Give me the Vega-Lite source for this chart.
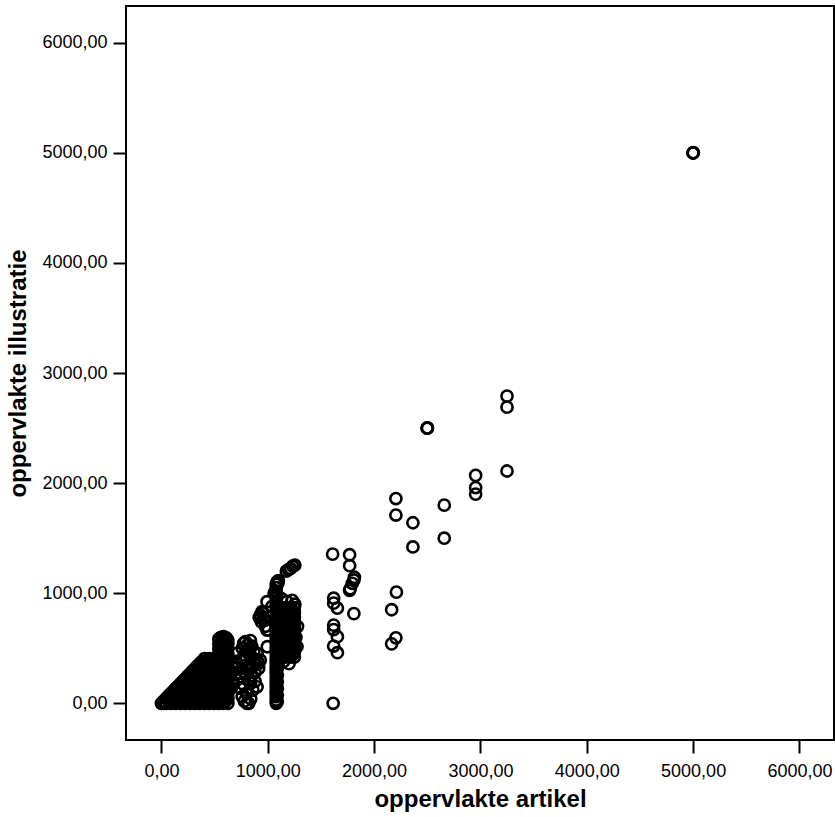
{
 "$schema": "https://vega.github.io/schema/vega-lite/v6.json",
 "width": 708, "height": 734,
 "autosize": "none",
 "padding": {"left": 126, "top": 6, "right": 1, "bottom": 77},
 "background": "white",
 "config": {"view": {"stroke": "black", "strokeWidth": 2}, "font": "Liberation Sans"},
 "data": {"values": [
  {"x":5000,"y":5000},{"x":5002,"y":5001},{"x":4999,"y":4998},
  {"x":2500,"y":2500},{"x":2502,"y":2501},{"x":2498,"y":2499},
  {"x":3250,"y":2790},{"x":3250,"y":2690},{"x":3250,"y":2110},
  {"x":2955,"y":2070},{"x":2955,"y":1960},{"x":2955,"y":1900},
  {"x":2660,"y":1800},{"x":2660,"y":1500},
  {"x":2365,"y":1640},{"x":2365,"y":1420},
  {"x":2205,"y":1860},{"x":2205,"y":1710},
  {"x":2210,"y":1010},{"x":2165,"y":850},{"x":2205,"y":595},{"x":2165,"y":540},
  {"x":1610,"y":1355},{"x":1770,"y":1350},{"x":1770,"y":1250},{"x":1815,"y":1145},{"x":1810,"y":1120},{"x":1795,"y":1090},{"x":1775,"y":1040},{"x":1770,"y":1025},{"x":1810,"y":815},
  {"x":1620,"y":955},{"x":1620,"y":910},{"x":1655,"y":865},{"x":1620,"y":710},{"x":1620,"y":670},{"x":1655,"y":605},{"x":1620,"y":520},{"x":1655,"y":460},{"x":1615,"y":0},
  {"x":1060,"y":1000},{"x":1087,"y":1104},{"x":1095,"y":1090},{"x":1100,"y":1115},{"x":1175,"y":1200},{"x":1195,"y":1215},{"x":1215,"y":1225},{"x":1235,"y":1245},{"x":1255,"y":1256},
  {"x":959,"y":775},{"x":946,"y":832},{"x":978,"y":700},{"x":993,"y":923},{"x":993,"y":665},{"x":977,"y":756},{"x":1040,"y":880},{"x":996,"y":514},{"x":1006,"y":667},
  {"x":1080,"y":0},{"x":1080,"y":30},{"x":1080,"y":60},{"x":1080,"y":90},{"x":1080,"y":120},{"x":1080,"y":150},{"x":1080,"y":180},{"x":1080,"y":210},{"x":1080,"y":240},{"x":1080,"y":270},{"x":1080,"y":300},{"x":1080,"y":330},{"x":1080,"y":360},{"x":1080,"y":390},{"x":1080,"y":420},{"x":1080,"y":450},{"x":1080,"y":480},{"x":1080,"y":510},{"x":1080,"y":540},{"x":1080,"y":570},{"x":1080,"y":600},{"x":1080,"y":630},{"x":1080,"y":660},{"x":1080,"y":690},{"x":1080,"y":720},{"x":1080,"y":750},{"x":1080,"y":780},{"x":1080,"y":810},{"x":1080,"y":840},{"x":1080,"y":870},{"x":1080,"y":900},{"x":1080,"y":930},{"x":1080,"y":960},{"x":1080,"y":990},{"x":1080,"y":1020},{"x":1080,"y":1050},{"x":1080,"y":1080},
  {"x":1090,"y":15},{"x":1090,"y":75},{"x":1090,"y":135},{"x":1090,"y":195},{"x":1090,"y":255},{"x":1090,"y":315},{"x":1090,"y":375},
  {"x":1120,"y":420},{"x":1120,"y":465},{"x":1120,"y":510},{"x":1120,"y":555},{"x":1120,"y":600},{"x":1120,"y":645},{"x":1120,"y":690},{"x":1120,"y":735},{"x":1120,"y":780},{"x":1120,"y":825},{"x":1120,"y":870},
  {"x":1165,"y":420},{"x":1165,"y":465},{"x":1165,"y":510},{"x":1165,"y":555},{"x":1165,"y":600},{"x":1165,"y":645},{"x":1165,"y":690},{"x":1165,"y":735},{"x":1165,"y":780},{"x":1165,"y":825},{"x":1165,"y":870},
  {"x":1210,"y":420},{"x":1210,"y":465},{"x":1210,"y":510},{"x":1210,"y":555},{"x":1210,"y":600},{"x":1210,"y":645},{"x":1210,"y":690},{"x":1210,"y":735},{"x":1210,"y":780},{"x":1210,"y":825},{"x":1210,"y":870},
  {"x":1250,"y":420},{"x":1250,"y":465},{"x":1250,"y":510},{"x":1250,"y":555},{"x":1250,"y":600},{"x":1250,"y":645},{"x":1250,"y":690},{"x":1250,"y":735},{"x":1250,"y":780},{"x":1250,"y":825},{"x":1250,"y":870},
  {"x":1100,"y":442},{"x":1100,"y":487},{"x":1100,"y":532},{"x":1100,"y":577},{"x":1100,"y":622},{"x":1100,"y":667},{"x":1100,"y":712},{"x":1100,"y":757},{"x":1100,"y":802},{"x":1100,"y":847},
  {"x":1143,"y":442},{"x":1143,"y":487},{"x":1143,"y":532},{"x":1143,"y":577},{"x":1143,"y":622},{"x":1143,"y":667},{"x":1143,"y":712},{"x":1143,"y":757},{"x":1143,"y":802},{"x":1143,"y":847},
  {"x":1188,"y":442},{"x":1188,"y":487},{"x":1188,"y":532},{"x":1188,"y":577},{"x":1188,"y":622},{"x":1188,"y":667},{"x":1188,"y":712},{"x":1188,"y":757},{"x":1188,"y":802},{"x":1188,"y":847},
  {"x":1232,"y":442},{"x":1232,"y":487},{"x":1232,"y":532},{"x":1232,"y":577},{"x":1232,"y":622},{"x":1232,"y":667},{"x":1232,"y":712},{"x":1232,"y":757},{"x":1232,"y":802},{"x":1232,"y":847},
  {"x":1275,"y":514},{"x":1265,"y":600},{"x":1280,"y":700},{"x":1150,"y":380},{"x":1200,"y":360},{"x":1230,"y":935},{"x":1180,"y":925},{"x":1130,"y":950},{"x":1255,"y":900},
  {"x":711,"y":454},{"x":711,"y":332},{"x":711,"y":212},{"x":658,"y":140},
  {"x":743,"y":393},{"x":743,"y":272},{"x":743,"y":136},{"x":743,"y":242},
  {"x":773,"y":545},{"x":773,"y":393},{"x":805,"y":484},{"x":805,"y":0},
  {"x":821,"y":212},{"x":821,"y":0},{"x":837,"y":570},{"x":837,"y":332},{"x":837,"y":182},
  {"x":868,"y":469},{"x":900,"y":393},{"x":900,"y":454},{"x":915,"y":318},{"x":915,"y":363},{"x":930,"y":393},
  {"x":930,"y":802},{"x":962,"y":757},{"x":810,"y":530},{"x":780,"y":440},{"x":850,"y":420},{"x":880,"y":280},{"x":760,"y":180},{"x":800,"y":90},{"x":860,"y":120},
  {"x":760,"y":500},{"x":790,"y":560},{"x":820,"y":450},{"x":850,"y":520},{"x":870,"y":400},{"x":890,"y":350},{"x":760,"y":320},{"x":790,"y":280},{"x":820,"y":300},{"x":850,"y":250},{"x":880,"y":200},{"x":900,"y":150},{"x":760,"y":60},{"x":780,"y":20},{"x":840,"y":40},{"x":700,"y":380},{"x":690,"y":260},{"x":680,"y":180},{"x":950,"y":820},{"x":920,"y":780},{"x":940,"y":740},
  {"x":540,"y":0},{"x":540,"y":45},{"x":540,"y":90},{"x":540,"y":135},{"x":540,"y":180},{"x":540,"y":225},{"x":540,"y":270},{"x":540,"y":315},{"x":540,"y":360},{"x":540,"y":405},{"x":540,"y":450},{"x":540,"y":495},{"x":540,"y":540},{"x":540,"y":585},
  {"x":585,"y":0},{"x":585,"y":45},{"x":585,"y":90},{"x":585,"y":135},{"x":585,"y":180},{"x":585,"y":225},{"x":585,"y":270},{"x":585,"y":315},{"x":585,"y":360},{"x":585,"y":405},{"x":585,"y":450},{"x":585,"y":495},{"x":585,"y":540},{"x":585,"y":585},
  {"x":625,"y":0},{"x":625,"y":45},{"x":625,"y":90},{"x":625,"y":135},{"x":625,"y":180},{"x":625,"y":225},{"x":625,"y":270},{"x":625,"y":315},{"x":625,"y":360},{"x":625,"y":405},{"x":625,"y":450},{"x":625,"y":495},{"x":625,"y":540},{"x":625,"y":575},
  {"x":562,"y":22},{"x":562,"y":67},{"x":562,"y":112},{"x":562,"y":157},{"x":562,"y":202},{"x":562,"y":247},{"x":562,"y":292},{"x":562,"y":337},{"x":562,"y":382},{"x":562,"y":427},{"x":562,"y":472},{"x":562,"y":517},{"x":562,"y":562},
  {"x":605,"y":22},{"x":605,"y":67},{"x":605,"y":112},{"x":605,"y":157},{"x":605,"y":202},{"x":605,"y":247},{"x":605,"y":292},{"x":605,"y":337},{"x":605,"y":382},{"x":605,"y":427},{"x":605,"y":472},{"x":605,"y":517},{"x":605,"y":562},
  {"x":585,"y":605},{"x":560,"y":600},{"x":610,"y":595},
  {"x":0,"y":0},
  {"x":45,"y":0},{"x":45,"y":45},
  {"x":90,"y":0},{"x":90,"y":45},{"x":90,"y":90},
  {"x":135,"y":0},{"x":135,"y":45},{"x":135,"y":90},{"x":135,"y":135},
  {"x":180,"y":0},{"x":180,"y":45},{"x":180,"y":90},{"x":180,"y":135},{"x":180,"y":180},
  {"x":225,"y":0},{"x":225,"y":45},{"x":225,"y":90},{"x":225,"y":135},{"x":225,"y":180},{"x":225,"y":225},
  {"x":270,"y":0},{"x":270,"y":45},{"x":270,"y":90},{"x":270,"y":135},{"x":270,"y":180},{"x":270,"y":225},{"x":270,"y":270},
  {"x":315,"y":0},{"x":315,"y":45},{"x":315,"y":90},{"x":315,"y":135},{"x":315,"y":180},{"x":315,"y":225},{"x":315,"y":270},{"x":315,"y":315},
  {"x":360,"y":0},{"x":360,"y":45},{"x":360,"y":90},{"x":360,"y":135},{"x":360,"y":180},{"x":360,"y":225},{"x":360,"y":270},{"x":360,"y":315},{"x":360,"y":360},
  {"x":405,"y":0},{"x":405,"y":45},{"x":405,"y":90},{"x":405,"y":135},{"x":405,"y":180},{"x":405,"y":225},{"x":405,"y":270},{"x":405,"y":315},{"x":405,"y":360},{"x":405,"y":405},
  {"x":450,"y":0},{"x":450,"y":45},{"x":450,"y":90},{"x":450,"y":135},{"x":450,"y":180},{"x":450,"y":225},{"x":450,"y":270},{"x":450,"y":315},{"x":450,"y":360},{"x":450,"y":405},
  {"x":495,"y":0},{"x":495,"y":45},{"x":495,"y":90},{"x":495,"y":135},{"x":495,"y":180},{"x":495,"y":225},{"x":495,"y":270},{"x":495,"y":315},{"x":495,"y":360},{"x":495,"y":405},
  {"x":22,"y":0},{"x":67,"y":22},
  {"x":112,"y":22},{"x":112,"y":67},
  {"x":157,"y":22},{"x":157,"y":67},{"x":157,"y":112},
  {"x":202,"y":22},{"x":202,"y":67},{"x":202,"y":112},{"x":202,"y":157},
  {"x":247,"y":22},{"x":247,"y":67},{"x":247,"y":112},{"x":247,"y":157},{"x":247,"y":202},
  {"x":292,"y":22},{"x":292,"y":67},{"x":292,"y":112},{"x":292,"y":157},{"x":292,"y":202},{"x":292,"y":247},
  {"x":337,"y":22},{"x":337,"y":67},{"x":337,"y":112},{"x":337,"y":157},{"x":337,"y":202},{"x":337,"y":247},{"x":337,"y":292},
  {"x":382,"y":22},{"x":382,"y":67},{"x":382,"y":112},{"x":382,"y":157},{"x":382,"y":202},{"x":382,"y":247},{"x":382,"y":292},{"x":382,"y":337},
  {"x":427,"y":22},{"x":427,"y":67},{"x":427,"y":112},{"x":427,"y":157},{"x":427,"y":202},{"x":427,"y":247},{"x":427,"y":292},{"x":427,"y":337},{"x":427,"y":382},
  {"x":472,"y":22},{"x":472,"y":67},{"x":472,"y":112},{"x":472,"y":157},{"x":472,"y":202},{"x":472,"y":247},{"x":472,"y":292},{"x":472,"y":337},{"x":472,"y":382},
  {"x":517,"y":22},{"x":517,"y":67},{"x":517,"y":112},{"x":517,"y":157},{"x":517,"y":202},{"x":517,"y":247},{"x":517,"y":292},{"x":517,"y":337},{"x":517,"y":382},
  {"x":67,"y":67},{"x":112,"y":112},{"x":157,"y":157},{"x":202,"y":202},{"x":247,"y":247},{"x":292,"y":292},{"x":337,"y":337},{"x":382,"y":382},
  {"x":20,"y":20},{"x":70,"y":30},{"x":110,"y":60},{"x":160,"y":120},{"x":200,"y":150},{"x":250,"y":200},{"x":290,"y":250},{"x":340,"y":300},{"x":380,"y":350},{"x":430,"y":380},{"x":470,"y":390},{"x":520,"y":380}
 ]},
 "mark": {"type": "point", "filled": false, "stroke": "black", "strokeWidth": 2.6, "size": 125, "opacity": 1},
 "encoding": {
  "x": {"field": "x", "type": "quantitative",
   "scale": {"domain": [-333, 6325], "nice": false, "zero": false},
   "axis": {"title": "oppervlakte artikel", "values": [0,1000,2000,3000,4000,5000,6000],
    "labelExpr": "replace(format(datum.value, '.2f'), '.', ',')",
    "domain": false, "grid": false, "tickSize": 13, "tickWidth": 2, "tickColor": "black",
    "labelFont": "Liberation Sans", "labelFontSize": 18, "labelColor": "black", "labelPadding": 9,
    "labelFlush": false, "labelOverlap": false,
    "titleFont": "Liberation Sans", "titleFontSize": 24, "titleFontWeight": "bold", "titleColor": "black",
    "titleY": 66, "titleBaseline": "alphabetic"}},
  "y": {"field": "y", "type": "quantitative",
   "scale": {"domain": [-333, 6333], "nice": false, "zero": false},
   "axis": {"title": "oppervlakte illustratie", "values": [0,1000,2000,3000,4000,5000,6000],
    "labelExpr": "replace(format(datum.value, '.2f'), '.', ',')",
    "domain": false, "grid": false, "tickSize": 13, "tickWidth": 2, "tickColor": "black",
    "labelFont": "Liberation Sans", "labelFontSize": 18, "labelColor": "black", "labelPadding": 6,
    "labelFlush": false, "labelOverlap": false,
    "titleFont": "Liberation Sans", "titleFontSize": 24, "titleFontWeight": "bold", "titleColor": "black",
    "titleX": -101, "titleBaseline": "alphabetic"}}
 }
}
